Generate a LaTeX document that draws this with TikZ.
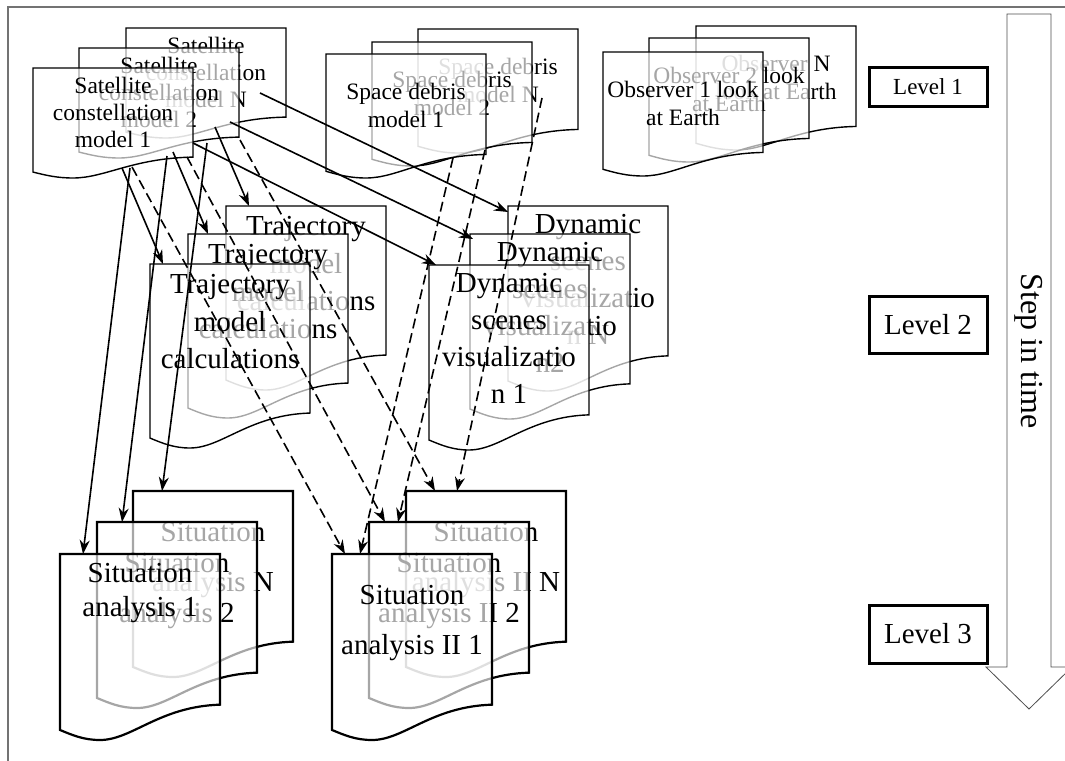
\documentclass[tikz,border=0pt]{standalone}
\usepackage{fontspec}
\setmainfont{Liberation Serif}
\usetikzlibrary{arrows.meta,calc}

% wavy document: #1 extra style, #2 name, #3 top left corner, #4 height, #5 text style, #6 text
\newcommand{\docfile}[6][]{%
  \node[docbox, minimum height=#4] (#2) at (#3) {};
  \filldraw[docline, #1, shift={(#2.north west)}, x=160pt, y=-#4]
    (0,0) -- (1,0) -- (1,0.81)
    .. controls (0.62,0.82) and (0.45,1) .. (0.25,1)
    .. controls (0.15,1) and (0.08,0.975) .. (0,0.946) -- cycle;
  \node[doctext, #5] (#2txt) at (#2.north) {#6};
}

\begin{document}
\begin{tikzpicture}[x=1pt, y=-1pt,
    docbox/.style={rectangle, draw=none, inner sep=0pt, outer sep=0pt, minimum width=160pt, anchor=north west},
    docline/.style={draw=black, line width=1.4pt, fill=white, fill opacity=0.65},
    boldline/.style={line width=2.2pt},
    doctext/.style={anchor=north, align=center, inner sep=0pt},
    sattxt/.style={font=\fontsize{23.5}{27}\selectfont, yshift=-9pt},
    debtxt/.style={font=\fontsize{23.5}{27.5}\selectfont, yshift=-29pt},
    trjtxt/.style={font=\fontsize{29}{37.5}\selectfont, yshift=-10.5pt},
    dyntxt/.style={font=\fontsize{29}{36.7}\selectfont, yshift=-8.5pt},
    sittxt/.style={font=\fontsize{29}{50}\selectfont, yshift=-31.5pt},
    sitfront/.style={font=\fontsize{29}{34}\selectfont, yshift=-9.5pt},
    levelbox/.style={draw, line width=3pt, minimum width=118pt, inner sep=0pt},
    flow/.style={-{Stealth[length=14pt,width=10pt]}, line width=1.6pt},
    dflow/.style={flow, dash pattern=on 10pt off 5pt}
]
    \useasboundingbox (0,0) rectangle (1065,760);
    \clip (0,0) rectangle (1065,760);
    \draw[black!55, line width=1.5pt] (8,7) rectangle (1100,800);

    % Level 1
    \foreach \n/\x/\y in {N/126/28, 2/79/48, 1/33/68} {
        \docfile{sat\n}{\x,\y}{110pt}{sattxt}{Satellite\\constellation\\model \n}
    }
    \foreach \n/\x/\y in {N/418/29, 2/372/42, 1/326/54} {
        \docfile{deb\n}{\x,\y}{124pt}{debtxt}{Space debris\\model \n}
    }
    \foreach \n/\x/\y/\txt in {N/696/26/{Observer N\\look at Earth}, 2/649/38/{Observer 2 look\\at Earth}, 1/603/52/{Observer 1 look\\at Earth}} {
        \docfile{obs\n}{\x,\y}{124pt}{debtxt}{\txt}
    }

    % Level 2
    \foreach \n/\x/\y in {N/226/206, 2/188/234, 1/150/264} {
        \docfile{trj\n}{\x,\y}{184pt}{trjtxt}{Trajectory\\model\\calculations}
    }
    \foreach \n/\x/\y/\last in {N/508/206/n N, 2/470/234/n2, 1/429/265/n 1} {
        \docfile{dyn\n}{\x,\y}{185pt}{dyntxt}{Dynamic\\scenes\\visualizatio\\\last}
    }

    % Level 3
    \foreach \n/\x/\y in {N/133/491, 2/97/522} {
        \docfile[boldline]{sit\n}{\x,\y}{186pt}{sittxt}{Situation\\analysis \n}
    }
    \docfile[boldline]{sit1}{60,554}{186pt}{sitfront}{Situation\\analysis 1}
    \foreach \n/\x/\y in {N/406/491, 2/369/522, 1/332/554} {
        \docfile[boldline]{sitII\n}{\x,\y}{186pt}{sittxt}{Situation\\analysis II \n}
    }

    % data flow
    \foreach \src/\sx/\sy/\dst/\dx/\dy in {satN/134/65/dynN/0/6, sat2/151/74/dyn2/3/5, sat1/160/75/dyn1/7/0,
        sat2/136/79/trjN/23/0, sat1/140/84/trj2/20/0, sat1/89/100/trj1/13/0,
        sat1/97/100/sit1/23/0, sat1/134/88/sit2/25/0, sat2/128/95/sitN/29/0}
        \draw[flow] ($(\src.north west)+(\sx,\sy)$) -- ($(\dst.north west)+(\dx,\dy)$);
    \foreach \src/\sx/\sy/\dst/\dx in {sat1/99/99/sitII1/13, deb1/127/104/sitII1/28,
        sat1/154/89/sitII2/16, deb2/113/108/sitII2/29,
        sat2/161/92/sitIIN/29, debN/124/69/sitIIN/51}
        \draw[dflow] ($(\src.north west)+(\sx,\sy)$) -- ($(\dst.north west)+(\dx,0)$);

    % levels and time
    \node[levelbox, minimum height=38pt, font=\fontsize{23}{27}\selectfont] (lev1) at (928,87) {Level 1};
    \node[levelbox, minimum height=57pt, font=\fontsize{29}{34}\selectfont] (lev2) at (928,324.5) {Level 2};
    \node[levelbox, minimum height=58pt, font=\fontsize{29}{34}\selectfont] (lev3) at (928,634) {Level 3};
    \draw[black!70, line width=0.8pt] (1007,14) -- (1051,14) -- (1051,667) -- (1072,667) -- (1029,709) -- (986,667) -- (1007,667) -- cycle;
    \node[rotate=-90, font=\fontsize{32}{36}\selectfont] (steptxt) at (1029,351) {Step in time};
\end{tikzpicture}
\end{document}
